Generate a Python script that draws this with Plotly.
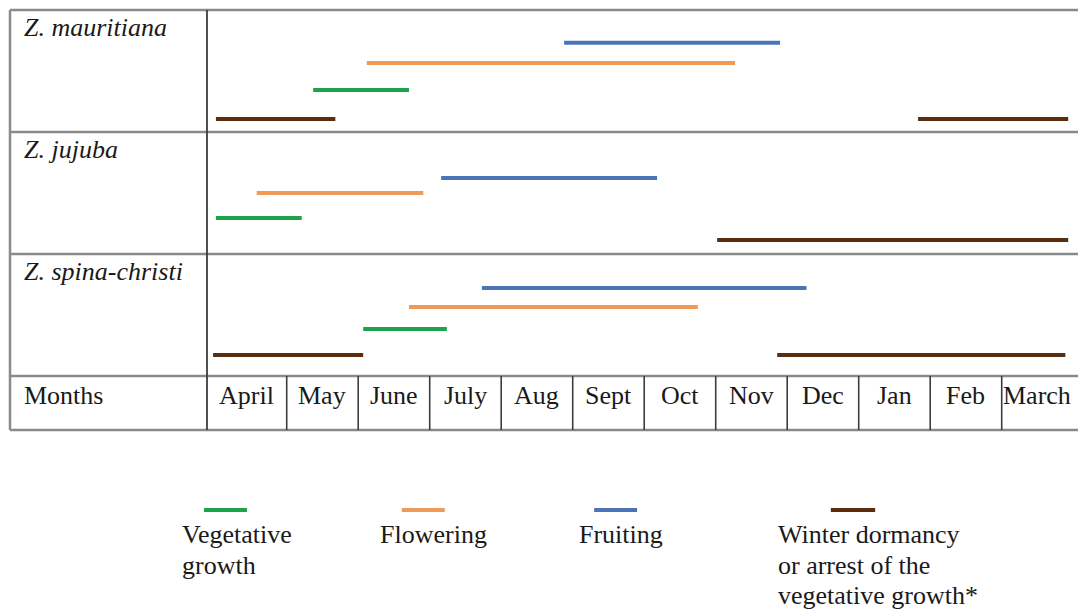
import plotly.graph_objects as go

# ---------------- data ----------------
months = ["April", "May", "June", "July", "Aug", "Sept", "Oct", "Nov", "Dec", "Jan", "Feb", "March"]
species = ["Z. mauritiana", "Z. jujuba", "Z. spina-christi"]
phases = ["Vegetative growth", "Flowering", "Fruiting", "Winter dormancy"]

# periods in month units (0 = start of April, 12 = end of March)
mauritiana_vegetative = [(1.37, 2.71)]
mauritiana_flowering = [(2.12, 7.27)]
mauritiana_fruiting = [(4.88, 7.90)]
mauritiana_dormancy = [(0.01, 1.68), (9.83, 11.93)]

jujuba_vegetative = [(0.01, 1.21)]
jujuba_flowering = [(0.58, 2.91)]
jujuba_fruiting = [(3.16, 6.18)]
jujuba_dormancy = [(7.02, 11.93)]

spina_vegetative = [(2.07, 3.24)]
spina_flowering = [(2.71, 6.75)]
spina_fruiting = [(3.73, 8.27)]
spina_dormancy = [(-0.03, 2.07), (7.86, 11.89)]

legend_texts = [
    ["Vegetative", "growth"],
    ["Flowering"],
    ["Fruiting"],
    ["Winter dormancy", "or arrest of the", "vegetative growth*"],
]

# ---------------- styles / layout ----------------
colors = {
    "Vegetative growth": "#1ea34a",
    "Flowering": "#f09a58",
    "Fruiting": "#4a74b6",
    "Winter dormancy": "#5a2d0e",
}
periods = {
    "Z. mauritiana": {"Vegetative growth": mauritiana_vegetative, "Flowering": mauritiana_flowering,
                      "Fruiting": mauritiana_fruiting, "Winter dormancy": mauritiana_dormancy},
    "Z. jujuba": {"Vegetative growth": jujuba_vegetative, "Flowering": jujuba_flowering,
                  "Fruiting": jujuba_fruiting, "Winter dormancy": jujuba_dormancy},
    "Z. spina-christi": {"Vegetative growth": spina_vegetative, "Flowering": spina_flowering,
                         "Fruiting": spina_fruiting, "Winter dormancy": spina_dormancy},
}
# vertical lane of each phase inside a species row (fraction of row height)
lanes = {
    "Z. mauritiana": {"Fruiting": 0.268, "Flowering": 0.434, "Vegetative growth": 0.656, "Winter dormancy": 0.893},
    "Z. jujuba": {"Fruiting": 0.377, "Flowering": 0.50, "Vegetative growth": 0.705, "Winter dormancy": 0.885},
    "Z. spina-christi": {"Fruiting": 0.279, "Flowering": 0.434, "Vegetative growth": 0.615, "Winter dormancy": 0.828},
}

FONT = "Liberation Serif"
TXT = "#1a1a1a"
FS = 26
W, H = 1078, 602          # page has an 8px body margin
PX_PER_MONTH = 71.5
PX_PER_ROW = 122.0
X_MIN = -2.898
X_MAX = X_MIN + W / PX_PER_MONTH
Y_TOP = -0.0164
Y_BOT = Y_TOP + H / PX_PER_ROW
TABLE_LEFT = -2.87
LABEL_DIV = -0.115
MONTH_ROW_BOTTOM = 3.443

fig = go.Figure()

# phase bars
for r, sp in enumerate(species):
    for ph in phases:
        for (a, b) in periods[sp][ph]:
            y = r + lanes[sp][ph]
            fig.add_trace(go.Scatter(
                x=[a, b], y=[y, y], mode="lines",
                line=dict(color=colors[ph], width=4),
                showlegend=False, hoverinfo="skip"))

shapes = []
grey = "#8a8a8a"
dark = "#3c3c3c"
# horizontal table lines
for yy in [0, 1, 2, 3, MONTH_ROW_BOTTOM]:
    shapes.append(dict(type="line", xref="x", yref="y", x0=TABLE_LEFT, x1=X_MAX + 0.2,
                       y0=yy, y1=yy, line=dict(color=grey, width=2.5)))
# left border
shapes.append(dict(type="line", xref="x", yref="y", x0=TABLE_LEFT, x1=TABLE_LEFT,
                   y0=0, y1=MONTH_ROW_BOTTOM, line=dict(color=grey, width=2.5)))
# label column divider
shapes.append(dict(type="line", xref="x", yref="y", x0=LABEL_DIV, x1=LABEL_DIV,
                   y0=0, y1=MONTH_ROW_BOTTOM, line=dict(color=dark, width=1.8)))
# month dividers
for i in range(1, len(months)):
    shapes.append(dict(type="line", xref="x", yref="y", x0=i, x1=i,
                       y0=3, y1=MONTH_ROW_BOTTOM, line=dict(color=dark, width=1.6)))

annotations = []
# species labels
for r, sp in enumerate(species):
    annotations.append(dict(x=TABLE_LEFT + 0.17, y=r + 0.145, xref="x", yref="y",
                            text="<i>" + sp + "</i>", showarrow=False, xanchor="left", yanchor="middle",
                            font=dict(family=FONT, size=FS, color=TXT)))
# months row
annotations.append(dict(x=TABLE_LEFT + 0.17, y=3.156, xref="x", yref="y", text="Months",
                        showarrow=False, xanchor="left", yanchor="middle",
                        font=dict(family=FONT, size=FS, color=TXT)))
edges = [LABEL_DIV] + list(range(1, len(months) + 1))
for i, m in enumerate(months):
    cx = (edges[i] + edges[i + 1]) / 2
    annotations.append(dict(x=cx, y=3.156, xref="x", yref="y", text=m,
                            showarrow=False, xanchor="center", yanchor="middle",
                            font=dict(family=FONT, size=FS, color=TXT)))

# legend
legend_key_x = [(-0.157, 0.444), (2.61, 3.21), (5.30, 5.90), (8.61, 9.23)]
legend_text_x = [-0.49, 2.28, 5.06, 7.84]
for ph, (a, b), tx, lines in zip(phases, legend_key_x, legend_text_x, legend_texts):
    shapes.append(dict(type="line", xref="x", yref="y", x0=a, x1=b, y0=4.098, y1=4.098,
                       line=dict(color=colors[ph], width=4)))
    for k, ln in enumerate(lines):
        annotations.append(dict(x=tx, y=4.303 + 0.25 * k, xref="x", yref="y", text=ln,
                                showarrow=False, xanchor="left", yanchor="middle",
                                font=dict(family=FONT, size=FS, color=TXT)))

fig.update_layout(
    width=W, height=H,
    margin=dict(l=0, r=0, t=0, b=0),
    paper_bgcolor="white", plot_bgcolor="white",
    xaxis=dict(range=[X_MIN, X_MAX], visible=False, fixedrange=True),
    yaxis=dict(range=[Y_BOT, Y_TOP], visible=False, fixedrange=True),
    shapes=shapes, annotations=annotations,
    showlegend=False,
)

fig.write_html("out.html")
